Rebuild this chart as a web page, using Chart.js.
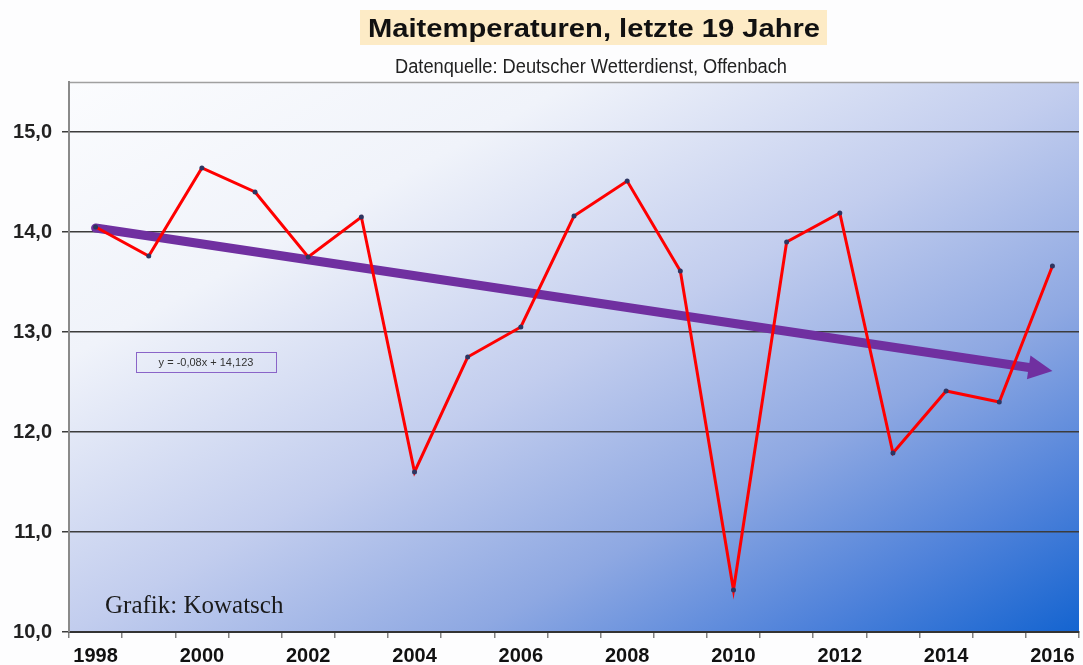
<!DOCTYPE html>
<html>
<head>
<meta charset="utf-8">
<title>Maitemperaturen</title>
<script src="https://cdn.jsdelivr.net/npm/chart.js@4/dist/chart.umd.min.js"></script>
<style>
  html, body { margin: 0; padding: 0; background: #fdfdfe; }
  #wrap { width: 1083px; height: 665px; position: relative; }
</style>
</head>
<body>
<div id="wrap"><canvas id="chart"></canvas></div>
<script>
// data
const years = ["1998", "1999", "2000", "2001", "2002", "2003", "2004", "2005", "2006", "2007",
  "2008", "2009", "2010", "2011", "2012", "2013", "2014", "2015", "2016"];
const mayTemps = [14.05, 13.76, 14.64, 14.40, 13.75, 14.15, 11.60, 12.75, 13.05, 14.16,
  14.51, 13.61, 10.42, 13.90, 14.19, 11.79, 12.41, 12.30, 13.66];
const trendYears = ["1998", "2016"];
const trendValues = [14.04, 12.61];
const yTicks = [10, 11, 12, 13, 14, 15];

const titleText = "Maitemperaturen, letzte 19 Jahre";
const subtitleText = "Datenquelle: Deutscher Wetterdienst, Offenbach";
const equationText = "y = -0,08x + 14,123";
const creditText = "Grafik: Kowatsch";

// draw text squeezed/stretched to a given width
const drawFitText = (ctx, text, cx, y, font, width) => {
  ctx.save();
  ctx.font = font;
  const w = ctx.measureText(text).width;
  ctx.translate(cx, y);
  ctx.scale(width / w, 1);
  ctx.textAlign = "center";
  ctx.textBaseline = "alphabetic";
  ctx.fillText(text, 0, 0);
  ctx.restore();
};

const backdrop = {
  id: "backdrop",
  beforeDraw(chart) {
    const { ctx, chartArea: a } = chart;
    ctx.save();
    ctx.fillStyle = "#fdfdfe";
    ctx.fillRect(0, 0, chart.width, chart.height);

    const w = a.right - a.left;
    const h = a.bottom - a.top;
    const k = (2 * w * h) / (w * w + h * h);
    const g = ctx.createLinearGradient(a.left, a.top, a.left + h * k, a.top + w * k);
    g.addColorStop(0, "#fbfcfe");
    g.addColorStop(0.25, "#f0f3fa");
    g.addColorStop(0.5, "#c2cdee");
    g.addColorStop(0.7, "#8ea8e2");
    g.addColorStop(0.86, "#4f82da");
    g.addColorStop(1, "#1464d0");
    ctx.fillStyle = g;
    ctx.fillRect(a.left, a.top, w, h);

    // top border of plot
    ctx.strokeStyle = "#a0a0a0";
    ctx.lineWidth = 1.5;
    ctx.beginPath();
    ctx.moveTo(a.left, a.top + 0.5);
    ctx.lineTo(a.right, a.top + 0.5);
    ctx.stroke();

    // title
    ctx.fillStyle = "#fdebc6";
    ctx.fillRect(360, 10, 467, 35);
    ctx.fillStyle = "#111111";
    drawFitText(ctx, titleText, 594, 37, "bold 26px 'Liberation Sans', Arial, sans-serif", 452);
    ctx.fillStyle = "#222222";
    drawFitText(ctx, subtitleText, 591, 73, "20px 'Liberation Sans Narrow', 'Liberation Sans', Arial, sans-serif", 392);
    ctx.restore();
  },
  beforeDatasetsDraw(chart) {
    // trend arrow, under the red series
    const { ctx } = chart;
    const x = chart.scales.x;
    const y = chart.scales.y;
    const x0 = x.getPixelForValue(years.indexOf(trendYears[0]));
    const y0 = y.getPixelForValue(trendValues[0]);
    const x1 = x.getPixelForValue(years.indexOf(trendYears[1]));
    const y1 = y.getPixelForValue(trendValues[1]);
    const ang = Math.atan2(y1 - y0, x1 - x0);
    const headLen = 24;
    const headHalf = 12;
    const bx = x1 - Math.cos(ang) * headLen;
    const by = y1 - Math.sin(ang) * headLen;

    ctx.save();
    ctx.strokeStyle = "#7030a0";
    ctx.fillStyle = "#7030a0";
    ctx.lineWidth = 9;
    ctx.lineCap = "round";
    ctx.beginPath();
    ctx.moveTo(x0, y0);
    ctx.lineTo(bx + Math.cos(ang) * 2, by + Math.sin(ang) * 2);
    ctx.stroke();
    ctx.beginPath();
    ctx.moveTo(x1, y1);
    ctx.lineTo(bx - Math.sin(ang) * headHalf, by + Math.cos(ang) * headHalf);
    ctx.lineTo(bx + Math.sin(ang) * headHalf, by - Math.cos(ang) * headHalf);
    ctx.closePath();
    ctx.fill();
    ctx.restore();
  },
  afterDraw(chart) {
    const { ctx } = chart;
    ctx.save();
    // trend equation box
    ctx.strokeStyle = "#8a64c8";
    ctx.lineWidth = 1;
    ctx.strokeRect(136.5, 352.5, 140, 20);
    ctx.fillStyle = "#333333";
    ctx.font = "11px 'Liberation Sans', Arial, sans-serif";
    ctx.textBaseline = "middle";
    ctx.textAlign = "center";
    ctx.fillText(equationText, 206, 363);
    // credit
    ctx.fillStyle = "#1a1a1a";
    ctx.textAlign = "left";
    ctx.textBaseline = "alphabetic";
    ctx.font = "25px 'Liberation Serif', 'Times New Roman', serif";
    ctx.fillText(creditText, 105, 613);
    ctx.restore();
  }
};

new Chart(document.getElementById("chart").getContext("2d"), {
  type: "line",
  data: {
    labels: years,
    datasets: [
      {
        label: "Mai",
        data: mayTemps,
        borderColor: "#ff0000",
        borderWidth: 3,
        pointRadius: 2.5,
        pointBackgroundColor: "#2e3560",
        pointBorderColor: "#2e3560",
        pointBorderWidth: 0,
        tension: 0,
        fill: false
      }
    ]
  },
  options: {
    responsive: true,
    maintainAspectRatio: false,
    devicePixelRatio: 1,
    animation: false,
    layout: { padding: { top: 82, right: 0, bottom: 0, left: 0 } },
    plugins: {
      legend: { display: false },
      tooltip: { enabled: false },
      title: { display: false }
    },
    scales: {
      x: {
        offset: true,
        grid: {
          offset: true,
          drawOnChartArea: false,
          drawTicks: true,
          tickLength: 6,
          color: "#808080",
          lineWidth: 1.5
        },
        border: { display: true, color: "#333333", width: 2 },
        ticks: {
          autoSkip: false,
          maxRotation: 0,
          padding: 6,
          color: "#111111",
          font: { family: "'Liberation Sans', Arial, sans-serif", size: 20, weight: "bold" },
          callback: (v, i) => (i % 2 === 0 ? years[i] : "")
        },
        afterFit: (scale) => { scale.height = 33; }
      },
      y: {
        min: 10,
        max: 15.5,
        afterBuildTicks: (scale) => {
          scale.ticks = yTicks.map((v) => ({ value: v }));
        },
        grid: {
          color: "#3c3c3c",
          lineWidth: 1.5,
          tickLength: 7
        },
        border: { display: true, color: "#8a8a8a", width: 2 },
        ticks: {
          padding: 10,
          color: "#222222",
          font: { family: "'Liberation Sans', Arial, sans-serif", size: 20, weight: "bold" },
          callback: (v) => v.toFixed(1).replace(".", ",")
        },
        afterFit: (scale) => { scale.width = 69; }
      }
    }
  },
  plugins: [backdrop]
});
</script>
</body>
</html>
